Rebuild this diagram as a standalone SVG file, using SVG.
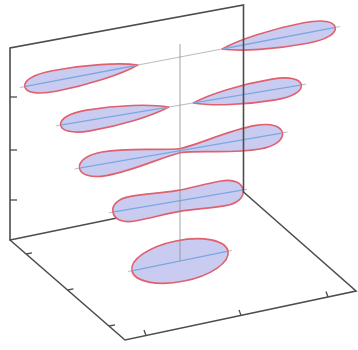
<svg xmlns="http://www.w3.org/2000/svg" width="358" height="350" viewBox="0 0 358 350">
<style>
.box{stroke:#4d4d4d;stroke-width:1.6;fill:none;stroke-linecap:round}
.tick{stroke:#4d4d4d;stroke-width:1.3;fill:none}
.guide{stroke:#bdbdbd;stroke-width:1;fill:none}
.lobe{fill:#c9ccf0;stroke:#e0606e;stroke-width:1.6;stroke-linejoin:round}
.axis{stroke:#7aa8e0;stroke-width:1.3;fill:none}
</style>
<rect width="358" height="350" fill="#ffffff"/>
<g id="floor-back">
<line class="box" x1="10" y1="240" x2="243.5" y2="192"/>
</g>
<g id="guides">
<g transform="translate(180,57) rotate(-10.8)"><line class="guide" x1="-163" y1="0" x2="163" y2="0"/></g>
<g transform="translate(181,105) rotate(-9.5)"><line class="guide" x1="-127" y1="0" x2="127" y2="0"/></g>
<g transform="translate(181,150.5) rotate(-9.8)"><line class="guide" x1="-108" y1="0" x2="108" y2="0"/></g>
<g transform="translate(178,201) rotate(-9.6)"><line class="guide" x1="-70" y1="0" x2="70" y2="0"/></g>
<g transform="translate(180,261) rotate(-11.5)"><line class="guide" x1="-53" y1="0" x2="53" y2="0"/></g>
</g>
<g id="level5" transform="translate(180,261) rotate(-11.5)">
<ellipse class="lobe" cx="0" cy="0" rx="49" ry="20.5"/>
<line class="axis" x1="-48" y1="0" x2="48" y2="0"/>
</g>
<g id="level4" transform="translate(178,201) rotate(-9.6)">
<path class="lobe" d="M0,-10.5 C-15,-10.5 -30,-12.5 -46,-12.5 C-59,-12.5 -66,-7 -66,0 C-66,7 -59,12.5 -46,12.5 C-30,12.5 -15,10.5 0,10.5 C15,10.5 30,12.5 46,12.5 C59,12.5 66,7 66,0 C66,-7 59,-12.5 46,-12.5 C30,-12.5 15,-10.5 0,-10.5Z"/>
<line class="axis" x1="-65" y1="0" x2="65" y2="0"/>
</g>
<g id="level3" transform="translate(181,150.5) rotate(-9.8)">
<path class="lobe" d="M0,-2 C-20,-3 -50,-12 -78,-12 C-94,-12 -103,-6.5 -103,0 C-103,6.5 -94,12 -78,12 C-50,12 -20,3 0,2 C20,3 50,12 78,12 C94,12 103,6.5 103,0 C103,-6.5 94,-12 78,-12 C50,-12 20,-3 0,-2Z"/>
<line class="axis" x1="-102" y1="0" x2="102" y2="0"/>
</g>
<g id="level2" transform="translate(181,105) rotate(-9.5)">
<path class="lobe" d="M-12.5,0 C-30,-6 -62,-10.5 -94,-10.5 C-112,-10.5 -122,-6 -122,0 C-122,6 -112,10.5 -94,10.5 C-62,10.5 -30,6 -12.5,0Z"/>
<path class="lobe" d="M12.5,0 C30,-6 62,-10.5 94,-10.5 C112,-10.5 122,-6 122,0 C122,6 112,10.5 94,10.5 C62,10.5 30,6 12.5,0Z"/>
<line class="axis" x1="-121" y1="0" x2="-13" y2="0"/>
<line class="axis" x1="13" y1="0" x2="121" y2="0"/>
</g>
<g id="level1" transform="translate(180,57) rotate(-10.8)">
<path class="lobe" d="M-43,0 C-60,-6 -96,-10.5 -128,-10.5 C-148,-10.5 -158,-6 -158,0 C-158,6 -148,10.5 -128,10.5 C-96,10.5 -60,6 -43,0Z"/>
<path class="lobe" d="M43,0 C60,-6 96,-10.5 128,-10.5 C148,-10.5 158,-6 158,0 C158,6 148,10.5 128,10.5 C96,10.5 60,6 43,0Z"/>
<line class="axis" x1="-157" y1="0" x2="-44" y2="0"/>
<line class="axis" x1="44" y1="0" x2="157" y2="0"/>
</g>
<g id="center-axis">
<line x1="180" y1="44" x2="180" y2="261" stroke="#8c8c8c" stroke-width="1" stroke-opacity="0.8"/>
</g>
<g id="frame">
<polyline class="box" points="10,240 10,48 243.5,5 243.5,192 356,291 125,340 10,240"/>
<line class="tick" x1="10" y1="97" x2="17" y2="97"/>
<line class="tick" x1="10" y1="150" x2="17" y2="150"/>
<line class="tick" x1="10" y1="200" x2="17" y2="200"/>
<line class="tick" x1="26" y1="254" x2="32" y2="252.8"/>
<line class="tick" x1="67.5" y1="290" x2="73.5" y2="288.8"/>
<line class="tick" x1="109" y1="326" x2="115" y2="324.8"/>
<line class="tick" x1="146" y1="335.5" x2="144" y2="330"/>
<line class="tick" x1="241" y1="315.4" x2="239" y2="309.9"/>
<line class="tick" x1="328" y1="297" x2="326" y2="291.5"/>
</g>
</svg>
